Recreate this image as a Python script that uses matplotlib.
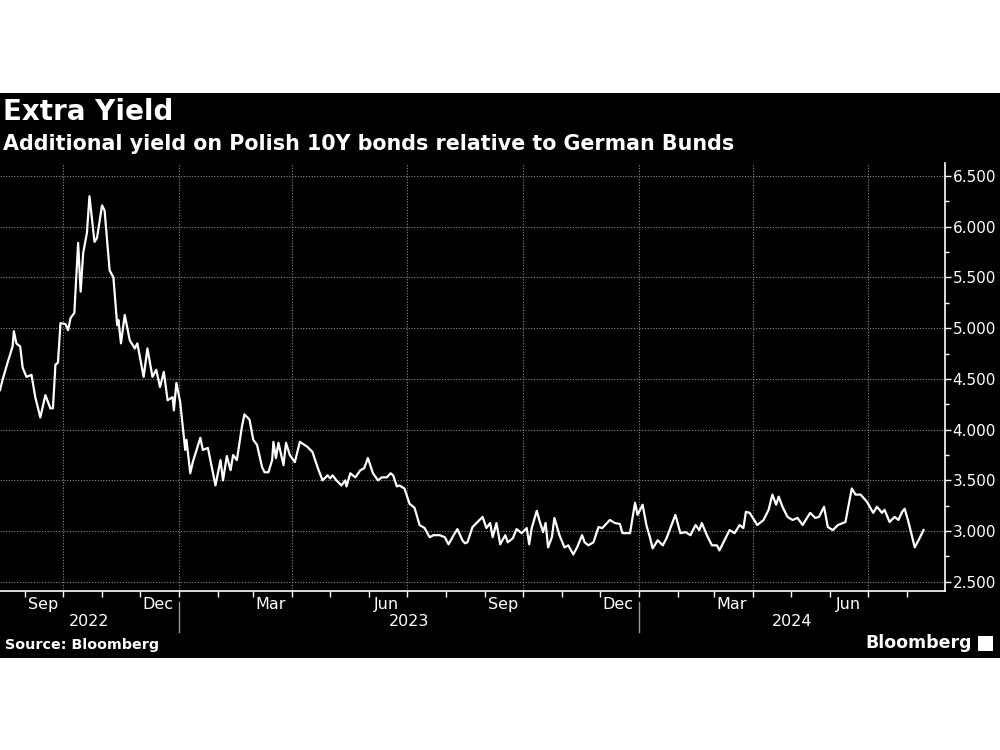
import pandas as pd
import matplotlib
matplotlib.use("Agg")
import matplotlib.pyplot as plt
import matplotlib.dates as mdates
import matplotlib.transforms as mtransforms
from matplotlib.patches import Rectangle

# Spread of Polish 10Y over German Bunds (pct points)
dates = [
    "2022-08-12", "2022-08-14", "2022-08-18", "2022-08-22", "2022-08-23", "2022-08-25",
    "2022-08-28", "2022-08-30", "2022-09-02", "2022-09-06", "2022-09-09", "2022-09-13",
    "2022-09-17", "2022-09-21", "2022-09-23", "2022-09-25", "2022-09-27", "2022-09-29",
    "2022-10-03", "2022-10-05", "2022-10-07", "2022-10-10", "2022-10-11", "2022-10-13",
    "2022-10-15", "2022-10-17", "2022-10-20", "2022-10-22", "2022-10-26", "2022-10-28",
    "2022-11-01", "2022-11-03", "2022-11-07", "2022-11-10", "2022-11-13", "2022-11-14",
    "2022-11-16", "2022-11-19", "2022-11-23", "2022-11-27", "2022-11-29", "2022-12-01",
    "2022-12-04", "2022-12-07", "2022-12-11", "2022-12-14", "2022-12-17", "2022-12-20",
    "2022-12-23", "2022-12-27", "2022-12-28", "2022-12-30", "2023-01-02", "2023-01-06",
    "2023-01-07", "2023-01-10", "2023-01-12", "2023-01-18", "2023-01-20", "2023-01-24",
    "2023-01-30", "2023-02-03", "2023-02-05", "2023-02-08", "2023-02-11", "2023-02-13",
    "2023-02-16", "2023-02-20", "2023-02-22", "2023-02-26", "2023-03-01", "2023-03-04",
    "2023-03-08", "2023-03-10", "2023-03-13", "2023-03-16", "2023-03-17", "2023-03-19",
    "2023-03-21", "2023-03-25", "2023-03-27", "2023-03-30", "2023-04-03", "2023-04-07",
    "2023-04-13", "2023-04-17", "2023-04-21", "2023-04-25", "2023-04-29", "2023-05-01",
    "2023-05-03", "2023-05-06", "2023-05-10", "2023-05-13", "2023-05-14", "2023-05-17",
    "2023-05-21", "2023-05-25", "2023-05-28", "2023-05-31", "2023-06-04", "2023-06-08",
    "2023-06-11", "2023-06-15", "2023-06-18", "2023-06-20", "2023-06-23", "2023-06-25",
    "2023-06-29", "2023-07-03", "2023-07-07", "2023-07-11", "2023-07-15", "2023-07-19",
    "2023-07-22", "2023-07-27", "2023-07-31", "2023-08-03", "2023-08-07", "2023-08-10",
    "2023-08-14", "2023-08-16", "2023-08-18", "2023-08-22", "2023-08-26", "2023-08-30",
    "2023-09-02", "2023-09-05", "2023-09-07", "2023-09-10", "2023-09-13", "2023-09-17",
    "2023-09-19", "2023-09-23", "2023-09-26", "2023-09-30", "2023-10-04", "2023-10-06",
    "2023-10-08", "2023-10-12", "2023-10-14", "2023-10-17", "2023-10-19", "2023-10-21",
    "2023-10-24", "2023-10-26", "2023-10-30", "2023-11-03", "2023-11-06", "2023-11-10",
    "2023-11-13", "2023-11-17", "2023-11-19", "2023-11-22", "2023-11-26", "2023-11-30",
    "2023-12-03", "2023-12-09", "2023-12-13", "2023-12-17", "2023-12-19", "2023-12-25",
    "2023-12-29", "2023-12-31", "2024-01-04", "2024-01-07", "2024-01-10", "2024-01-12",
    "2024-01-16", "2024-01-20", "2024-01-23", "2024-01-27", "2024-01-30", "2024-02-03",
    "2024-02-07", "2024-02-11", "2024-02-15", "2024-02-18", "2024-02-20", "2024-02-24",
    "2024-02-28", "2024-03-03", "2024-03-05", "2024-03-09", "2024-03-13", "2024-03-17",
    "2024-03-21", "2024-03-24", "2024-03-26", "2024-03-29", "2024-04-04", "2024-04-09",
    "2024-04-13", "2024-04-16", "2024-04-19", "2024-04-21", "2024-04-24", "2024-04-28",
    "2024-05-02", "2024-05-06", "2024-05-10", "2024-05-16", "2024-05-20", "2024-05-23",
    "2024-05-27", "2024-05-30", "2024-06-03", "2024-06-07", "2024-06-13", "2024-06-18",
    "2024-06-21", "2024-06-25", "2024-06-30", "2024-07-05", "2024-07-08", "2024-07-12",
    "2024-07-14", "2024-07-18", "2024-07-22", "2024-07-25", "2024-07-28", "2024-07-30",
    "2024-08-02", "2024-08-07", "2024-08-10", "2024-08-14",
]
spread = [
    4.39, 4.49, 4.66, 4.82, 4.97, 4.85,
    4.82, 4.61, 4.52, 4.54, 4.32, 4.12,
    4.34, 4.21, 4.21, 4.64, 4.66, 5.05,
    5.04, 4.98, 5.10, 5.15, 5.38, 5.84,
    5.36, 5.74, 5.94, 6.30, 5.85, 5.89,
    6.21, 6.16, 5.57, 5.50, 5.03, 5.08,
    4.85, 5.13, 4.88, 4.80, 4.85, 4.72,
    4.52, 4.80, 4.52, 4.59, 4.42, 4.57,
    4.29, 4.32, 4.19, 4.46, 4.27, 3.80,
    3.90, 3.57, 3.68, 3.92, 3.80, 3.82,
    3.45, 3.70, 3.50, 3.74, 3.60, 3.75,
    3.70, 4.03, 4.15, 4.10, 3.90, 3.85,
    3.63, 3.58, 3.58, 3.70, 3.88, 3.72,
    3.87, 3.65, 3.87, 3.75, 3.68, 3.88,
    3.83, 3.78, 3.63, 3.50, 3.55, 3.52,
    3.55, 3.50, 3.45, 3.50, 3.44, 3.57,
    3.53, 3.60, 3.62, 3.72, 3.57, 3.50,
    3.53, 3.53, 3.57, 3.55, 3.44, 3.45,
    3.42, 3.27, 3.23, 3.06, 3.03, 2.94,
    2.96, 2.96, 2.94, 2.87, 2.96, 3.02,
    2.91, 2.88, 2.89, 3.04, 3.09, 3.14,
    3.03, 3.08, 2.94, 3.08, 2.87, 2.96,
    2.89, 2.93, 3.02, 2.98, 3.03, 2.87,
    3.03, 3.20, 3.11, 2.99, 3.08, 2.84,
    2.94, 3.13, 2.96, 2.84, 2.86, 2.77,
    2.84, 2.96, 2.89, 2.86, 2.89, 3.04,
    3.03, 3.11, 3.08, 3.07, 2.98, 2.98,
    3.28, 3.16, 3.26, 3.06, 2.93, 2.83,
    2.91, 2.86, 2.93, 3.06, 3.16, 2.98,
    2.99, 2.96, 3.06, 3.01, 3.08, 2.96,
    2.86, 2.86, 2.81, 2.91, 3.01, 2.98,
    3.06, 3.03, 3.19, 3.18, 3.06, 3.11,
    3.21, 3.36, 3.26, 3.34, 3.24, 3.14,
    3.11, 3.13, 3.06, 3.18, 3.13, 3.14,
    3.24, 3.04, 3.01, 3.06, 3.09, 3.42,
    3.36, 3.36, 3.29, 3.18, 3.24, 3.18,
    3.21, 3.09, 3.14, 3.11, 3.19, 3.22,
    3.09, 2.84, 2.91, 3.01,
]

month_labels = ["Sep", "Dec", "Mar", "Jun", "Sep", "Dec", "Mar", "Jun"]
month_label_dates = ["2022-09-15", "2022-12-15", "2023-03-15", "2023-06-15",
                     "2023-09-15", "2023-12-15", "2024-03-15", "2024-06-15"]
year_labels = ["2022", "2023", "2024"]

x = pd.to_datetime(dates)
x_start, x_end = pd.Timestamp("2022-08-12"), pd.Timestamp("2024-08-31")

fig = plt.figure(figsize=(10, 7.5), dpi=100, facecolor="white")
# black panel behind everything
fig.patches.append(Rectangle((0, 0.123), 1, 0.753, transform=fig.transFigure,
                             facecolor="black", edgecolor="none", zorder=-10))

ax = fig.add_axes([0.0, 0.212, 0.945, 0.571])
ax.set_facecolor("black")
ax.plot(x, spread, color="white", lw=1.6, zorder=3)

ax.set_xlim(x_start, x_end)
ax.set_ylim(2.41, 6.63)

# y axis on the right
ax.yaxis.tick_right()
ax.set_yticks([2.5, 3.0, 3.5, 4.0, 4.5, 5.0, 5.5, 6.0, 6.5])
ax.set_yticks([2.75, 3.25, 3.75, 4.25, 4.75, 5.25, 5.75, 6.25], minor=True)
ax.yaxis.set_major_formatter(matplotlib.ticker.FormatStrFormatter("%.3f"))
ax.tick_params(axis="y", which="major", colors="white", labelcolor="white",
               labelsize=11, length=4, width=1, pad=1.5)
ax.tick_params(axis="y", which="minor", colors="white", length=3, width=1)

# x axis: tick marks at month starts, labels mid-month
ax.xaxis.set_major_locator(mdates.MonthLocator())
ax.xaxis.set_major_formatter(matplotlib.ticker.NullFormatter())
ax.set_xticks(pd.to_datetime(month_label_dates), minor=True)
ax.set_xticklabels(month_labels, minor=True)
ax.tick_params(axis="x", which="major", colors="white", length=4, width=1)
ax.tick_params(axis="x", which="minor", length=0, labelcolor="white",
               labelsize=11.5, pad=4)

for s in ("top", "left"):
    ax.spines[s].set_visible(False)
for s in ("bottom", "right"):
    ax.spines[s].set_color("white")
    ax.spines[s].set_linewidth(1.2)

# dotted grid: horizontal at majors, vertical at quarter starts
ax.grid(True, axis="y", which="major", color="#8a8a8a", ls=(0, (1, 1.5)), lw=0.8)
for q in pd.date_range("2022-10-01", "2024-07-01", freq="QS"):
    ax.axvline(q, color="#8a8a8a", ls=(0, (1, 1.5)), lw=0.8, zorder=1)

# year row
trans = mtransforms.blended_transform_factory(ax.transData, fig.transFigure)
jan23, jan24 = pd.Timestamp("2023-01-01"), pd.Timestamp("2024-01-01")
year_mid = [x_start + (jan23 - x_start) / 2, jan23 + (jan24 - jan23) / 2, jan24 + (x_end - jan24) / 2]
for lbl, xm in zip(year_labels, year_mid):
    ax.text(xm, 0.171, lbl, transform=trans, color="white", fontsize=11.5,
            ha="center", va="center")
for sep in (jan23, jan24):
    ax.plot([sep, sep], [0.157, 0.197], transform=trans, color="#9a9a9a",
            lw=1, clip_on=False)

# titles and footer
fig.text(0.003, 0.850, "Extra Yield", color="white", fontsize=20,
         fontweight="bold", ha="left", va="center")
fig.text(0.003, 0.808, "Additional yield on Polish 10Y bonds relative to German Bunds",
         color="white", fontsize=14.9, fontweight="bold", ha="left", va="center")
fig.text(0.005, 0.140, "Source: Bloomberg", color="white", fontsize=10.3,
         fontweight="bold", ha="left", va="center")
fig.text(0.972, 0.142, "Bloomberg", color="white", fontsize=12.5,
         fontweight="bold", ha="right", va="center")
fig.patches.append(Rectangle((0.978, 0.132), 0.015, 0.02, transform=fig.transFigure,
                             facecolor="white", edgecolor="none"))

fig.savefig("out.png", dpi=100, facecolor="white")
